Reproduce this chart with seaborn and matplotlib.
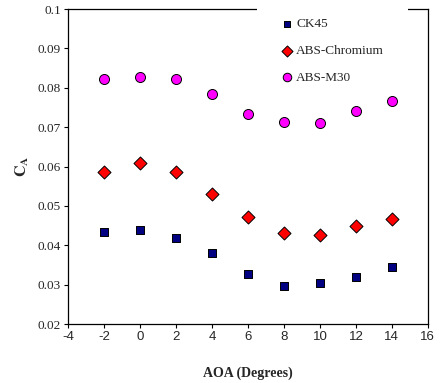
import seaborn as sns
import matplotlib.pyplot as plt
from matplotlib.patches import Rectangle
import pandas as pd

# angle of attack, degrees
aoa = [-2, 0, 2, 4, 6, 8, 10, 12, 14]
# axial force coefficient per model
ck45 = [0.0433, 0.0438, 0.0418, 0.0380, 0.0328, 0.0296, 0.0305, 0.0319, 0.0345]
absChromium = [0.0585, 0.0610, 0.0587, 0.0529, 0.0472, 0.0430, 0.0425, 0.0449, 0.0466]
absM30 = [0.0821, 0.0828, 0.0821, 0.0783, 0.0734, 0.0713, 0.0711, 0.0740, 0.0766]

seriesNames = ['CK45', 'ABS-Chromium', 'ABS-M30']
seriesValues = [ck45, absChromium, absM30]
xTicks = [-4, -2, 0, 2, 4, 6, 8, 10, 12, 14, 16]
yTicks = [0.02, 0.03, 0.04, 0.05, 0.06, 0.07, 0.08, 0.09, 0.1]

# long form table for seaborn
rows = []
for name, vals in zip(seriesNames, seriesValues):
    for a, v in zip(aoa, vals):
        rows.append({'AOA': a, 'CA': v, 'Model': name})
df = pd.DataFrame(rows)

sns.set_style('white')
plt.rcParams['mathtext.fontset'] = 'stix'

fig = plt.figure(figsize=(4.42, 3.83), dpi=100)
ax = fig.add_axes([0.154, 0.154, 0.814, 0.8225])

colors = {'CK45': '#000080', 'ABS-Chromium': '#ff0000', 'ABS-M30': '#ff00ff'}
markers = {'CK45': 's', 'ABS-Chromium': 'D', 'ABS-M30': 'o'}
sizes = {'CK45': 31, 'ABS-Chromium': 44, 'ABS-M30': 52}

for name in seriesNames:
    sub = df[df['Model'] == name]
    sns.scatterplot(
        data=sub, x='AOA', y='CA',
        color=colors[name], marker=markers[name], s=sizes[name],
        edgecolor='black', linewidth=0.7, label=name, ax=ax, zorder=3
    )

ax.set_xlim(-4, 16)
ax.set_ylim(0.02, 0.1)
ax.set_xticks(xTicks)
ax.set_yticks(yTicks)
ax.set_xticklabels([str(t) for t in xTicks], family='Liberation Sans', fontsize=9.5)
ax.set_yticklabels([f'{t:g}' for t in yTicks], family='Liberation Serif', fontsize=9.5)
ax.tick_params(axis='both', direction='out', length=3, width=0.8, color='black',
               left=True, bottom=True, pad=2)

for sp in ax.spines.values():
    sp.set_color('black')
    sp.set_linewidth(0.9)

ax.set_xlabel('AOA (Degrees)', family='Liberation Serif', fontweight='bold',
              fontsize=10, labelpad=17)
ax.set_ylabel(r'$\mathbf{C_A}$', fontsize=11.5, labelpad=5)

# the legend box in the original hides part of the top frame line
ax.add_patch(Rectangle((0.525, 0.98), 0.419, 0.04, transform=ax.transAxes,
                       facecolor='white', edgecolor='none', clip_on=False, zorder=4))

leg = ax.legend(loc='upper left', bbox_to_anchor=(0.594, 0.971), frameon=False,
                prop={'family': 'Liberation Serif', 'size': 9.5},
                handletextpad=0.3, labelspacing=1.1, borderpad=0,
                borderaxespad=0, handlelength=0.8, markerscale=0.85)
leg.set_zorder(5)

fig.savefig('out.png', dpi=100)
plt.close()
